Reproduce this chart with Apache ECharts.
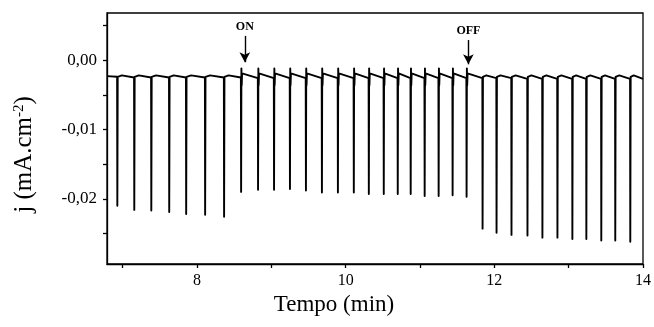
<!DOCTYPE html>
<html>
<head>
<meta charset="utf-8">
<script src="https://cdn.jsdelivr.net/npm/echarts@6/dist/echarts.min.js"></script>
<style>
html,body{margin:0;padding:0;background:#fff;}
#chart{width:654px;height:327px;}
</style>
</head>
<body>
<div id="chart"></div>
<script>
// ---- data ----
const xRange = [6.79, 14];
const yRange = [-0.0294, 0.0068];
const xLabelValues = [8, 10, 12, 14];
const xTickValues = [7, 8, 9, 10, 11, 12, 13, 14];
const yLabelValues = [-0.02, -0.01, 0];
const yTickValues = [-0.025, -0.02, -0.015, -0.01, -0.005, 0, 0.005];

// spike times (min)
const spikeTimes = [6.926, 7.154, 7.383, 7.624, 7.852, 8.107, 8.362,
  8.591, 8.819, 9.034, 9.248, 9.463, 9.678, 9.893, 10.107, 10.309, 10.510, 10.698, 10.872, 11.060, 11.248, 11.436, 11.624,
  11.839, 12.027, 12.228, 12.443, 12.644, 12.846, 13.047, 13.235, 13.436, 13.624, 13.826];
// spike bottom values (mA.cm-2)
const spikeDepths = [-0.0210, -0.0216, -0.0217, -0.0219, -0.0222, -0.0223, -0.0226,
  -0.0190, -0.0187, -0.0187, -0.0186, -0.0188, -0.0191, -0.0191, -0.0191, -0.0193, -0.0193, -0.0193, -0.0193, -0.0196, -0.0196, -0.0195, -0.0197,
  -0.0243, -0.0249, -0.0252, -0.0253, -0.0256, -0.0256, -0.0258, -0.0258, -0.0260, -0.0260, -0.0262];
// baseline just before each spike
const baseBefore = [-0.0024, -0.0025, -0.0025, -0.0025, -0.0025, -0.0025, -0.0025,
  -0.0025, -0.0026, -0.0026, -0.0026, -0.0026, -0.0026, -0.0026, -0.0026, -0.0026, -0.0026, -0.0026, -0.0026, -0.0026, -0.0026, -0.0026, -0.0026,
  -0.0026, -0.0026, -0.0026, -0.0027, -0.0027, -0.0027, -0.0027, -0.0027, -0.0027, -0.0027, -0.0027];
// baseline right after each spike recovers
const baseAfter = [-0.0024, -0.0024, -0.0024, -0.0024, -0.0024, -0.0024, -0.0024,
  -0.0019, -0.0019, -0.0019, -0.0019, -0.0019, -0.0019, -0.0019, -0.0019, -0.0019, -0.0019, -0.0019, -0.0019, -0.0019, -0.0019, -0.0019, -0.0019,
  -0.0024, -0.0024, -0.0024, -0.0024, -0.0024, -0.0024, -0.0024, -0.0024, -0.0024, -0.0024, -0.0024];
// top of the slow hump between spikes
const baseHump = [-0.0022, -0.0022, -0.0022, -0.0022, -0.0022, -0.0022, -0.0022,
  -0.0021, -0.0021, -0.0021, -0.0021, -0.0021, -0.0021, -0.0021, -0.0021, -0.0021, -0.0021, -0.0021, -0.0021, -0.0021, -0.0021, -0.0021, -0.0021,
  -0.0022, -0.0022, -0.0022, -0.0022, -0.0022, -0.0022, -0.0022, -0.0022, -0.0022, -0.0022, -0.0022];
// light-on transients (null where light is off)
const onPeaks = [null, null, null, null, null, null, null,
  -0.0012, -0.0012, -0.0012, -0.0012, -0.0012, -0.0012, -0.0012, -0.0012, -0.0012, -0.0012, -0.0012, -0.0012, -0.0012, -0.0012, -0.0012, -0.0012,
  null, null, null, null, null, null, null, null, null, null, null];
const onDips = [null, null, null, null, null, null, null,
  -0.0036, -0.0036, -0.0036, -0.0036, -0.0036, -0.0036, -0.0036, -0.0036, -0.0036, -0.0036, -0.0036, -0.0036, -0.0036, -0.0036, -0.0036, -0.0036,
  null, null, null, null, null, null, null, null, null, null, null];
const startPoint = [6.79, -0.0023];
const endPoint = [14, -0.0027];

// annotations
const annotText = ['ON', 'OFF'];
const annotX = [8.644, 11.651];
const annotTop = [0.0035, 0.0029];
const annotTip = [-0.0003, -0.0006];

// ---- build line ----
const lineData = [startPoint];
for (let i = 0; i < spikeTimes.length; i++) {
  const t = spikeTimes[i];
  const tNext = i + 1 < spikeTimes.length ? spikeTimes[i + 1] : endPoint[0];
  lineData.push([t, baseBefore[i]]);
  lineData.push([t + 0.003, spikeDepths[i]]);
  let t0;
  if (onPeaks[i] !== null) {
    lineData.push([t + 0.007, onPeaks[i]]);
    lineData.push([t + 0.011, onDips[i]]);
    lineData.push([t + 0.016, baseAfter[i]]);
    t0 = t + 0.016;
  } else {
    lineData.push([t + 0.008, baseAfter[i]]);
    t0 = t + 0.008;
    lineData.push([t0 + (tNext - t0) * 0.25, baseHump[i]]);
  }
}
lineData.push(endPoint);

const serif = '"Liberation Serif", "DejaVu Serif", serif';
const chart = echarts.init(document.getElementById('chart'), null, {renderer: 'canvas'});
chart.setOption({
  animation: false,
  backgroundColor: '#fff',
  grid: {left: 107, right: 10, top: 13, bottom: 63, show: true, borderColor: '#000', borderWidth: 1.3},
  xAxis: {
    type: 'value', min: xRange[0], max: xRange[1],
    name: 'Tempo (min)', nameLocation: 'middle', nameGap: 28,
    nameTextStyle: {fontFamily: serif, fontSize: 23, color: '#000', padding: [0, 82, 0, 0]},
    axisLine: {show: true, onZero: false, lineStyle: {color: '#000', width: 1.3}},
    axisTick: {show: true, length: 4, inside: false, customValues: xTickValues, lineStyle: {color: '#000', width: 1.3}},
    axisLabel: {customValues: xLabelValues, fontFamily: serif, fontSize: 16, color: '#000', margin: 9},
    splitLine: {show: false}
  },
  yAxis: {
    type: 'value', min: yRange[0], max: yRange[1],
    name: 'j (mA.cm{sup|-2})', nameLocation: 'middle', nameGap: 70, nameRotate: 90,
    nameTextStyle: {fontFamily: serif, fontSize: 25, color: '#000', padding: [0, 32, 0, 0],
      rich: {sup: {fontFamily: serif, fontSize: 15, color: '#000', verticalAlign: 'top', padding: [0, 0, 10, 0]}}},
    axisLine: {show: true, onZero: false, lineStyle: {color: '#000', width: 1.3}},
    axisTick: {show: true, length: 4, inside: false, customValues: yTickValues, lineStyle: {color: '#000', width: 1.3}},
    axisLabel: {customValues: yLabelValues, fontFamily: serif, fontSize: 17, color: '#000', margin: 10,
      formatter: v => (Math.abs(v) < 1e-9 ? 0 : v).toFixed(2).replace('.', ',')},
    splitLine: {show: false}
  },
  series: [{
    type: 'line',
    data: lineData,
    showSymbol: false,
    symbol: 'none',
    smooth: false,
    lineStyle: {color: '#000', width: 1.9, join: 'round'},
    silent: true,
    markLine: {
      silent: true,
      symbol: ['none', 'arrow'],
      symbolSize: [8, 10],
      lineStyle: {color: '#000', width: 1.4, type: 'solid'},
      label: {show: true, position: 'start', distance: 3, fontFamily: serif, fontWeight: 'bold', fontSize: 12, color: '#000', formatter: p => p.name},
      data: annotText.map((s, i) => [
        {name: s, coord: [annotX[i], annotTop[i]]},
        {coord: [annotX[i], annotTip[i]]}
      ])
    }
  }]
});
</script>
</body>
</html>
